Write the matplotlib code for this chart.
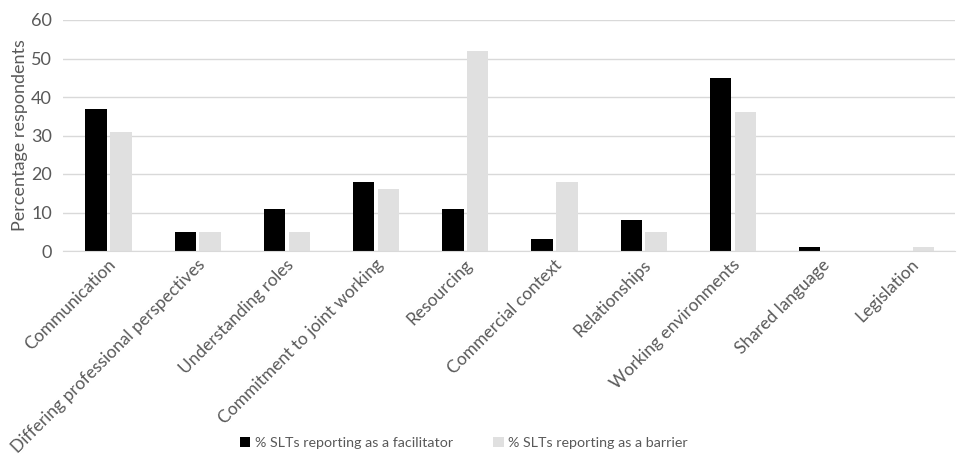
import numpy as np
import matplotlib
matplotlib.use("Agg")
import matplotlib.pyplot as plt

categories = ["Communication", "Differing professional perspectives", "Understanding roles",
              "Commitment to joint working", "Resourcing", "Commercial context",
              "Relationships", "Working environments", "Shared language", "Legislation"]
facilitator = [37, 5, 11, 18, 11, 3, 8, 45, 1, 0]
barrier = [31, 5, 5, 16, 52, 18, 5, 36, 0, 1]

plt.rcParams["font.family"] = ["Lato", "DejaVu Sans"]
TXT = "#595959"

fig = plt.figure(figsize=(9.58, 4.63), dpi=100)
ax = fig.add_axes([63 / 958, 1 - 251 / 463, (955 - 63) / 958, (251 - 20) / 463])
x = np.arange(len(categories))
w = 0.24
ax.bar(x - 0.13, facilitator, w, color="#000000", label="% SLTs reporting as a facilitator")
ax.bar(x + 0.15, barrier, w, color="#E0E0E0", label="% SLTs reporting as a barrier")
ax.set_xlim(-0.5, len(categories) - 0.5)
ax.set_ylim(0, 60)
ax.set_yticks(range(0, 61, 10))
ax.grid(axis="y", color="#D9D9D9", linewidth=1)
ax.set_axisbelow(True)
for s in ("top", "right", "left"):
    ax.spines[s].set_visible(False)
ax.spines["bottom"].set_color("#D9D9D9")
ax.tick_params(axis="y", length=0, colors=TXT, labelsize=13, pad=8)
ax.tick_params(axis="x", length=0, colors=TXT, labelsize=12.5, pad=4)
ax.set_xticks(x)
ax.set_xticklabels(categories, rotation=45, ha="right", rotation_mode="anchor")
ax.set_ylabel("Percentage respondents", color=TXT, fontsize=13, labelpad=2)
fig.legend(loc="lower center", bbox_to_anchor=(0.484, 0.003), ncol=2, frameon=False,
           fontsize=10.3, labelcolor=TXT, handlelength=0.75, handleheight=0.75,
           handletextpad=0.3, columnspacing=2.8)
fig.savefig("out.png", dpi=100)
